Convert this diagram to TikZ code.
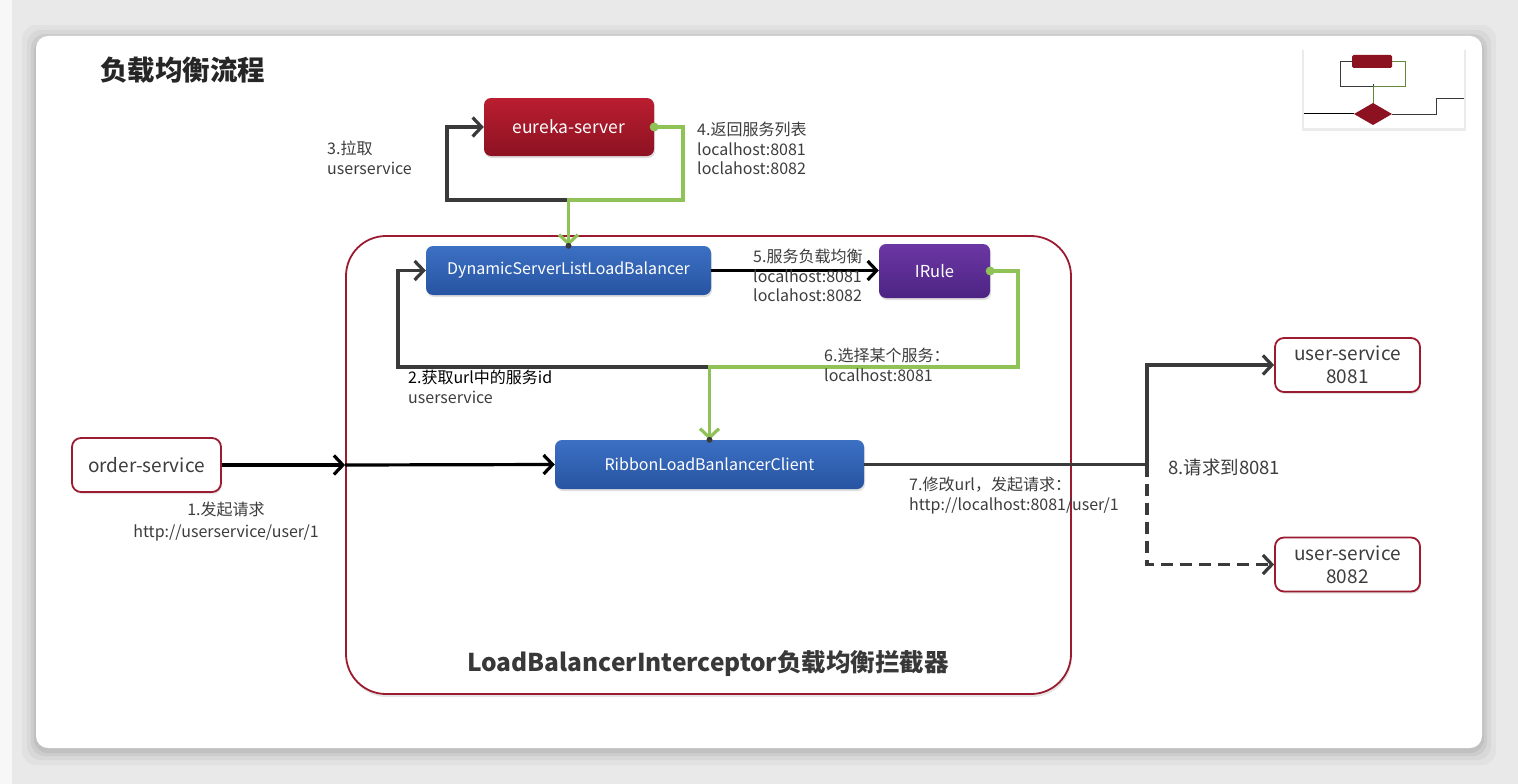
\documentclass[tikz,border=0pt]{standalone}
\usepackage{fontspec}
\setmainfont{Noto Sans CJK SC}
\usetikzlibrary{arrows.meta,shadows,calc}
\definecolor{bggray}{HTML}{E9E9E9}
\definecolor{ired}{HTML}{9B1B30}
\definecolor{eurtop}{HTML}{BA1E30}
\definecolor{eurbot}{HTML}{8C1222}
\definecolor{bluetop}{HTML}{3C70C3}
\definecolor{bluebot}{HTML}{2754A2}
\definecolor{purtop}{HTML}{6C37A4}
\definecolor{purbot}{HTML}{4C2483}
\definecolor{darkline}{HTML}{3A3A3A}
\definecolor{greenline}{HTML}{8FC257}
\definecolor{labeltext}{HTML}{3D3D3D}
\tikzset{
  fbox/.style={rounded corners=7pt, text=white, inner sep=0pt,
    drop shadow={opacity=0.25, shadow xshift=1pt, shadow yshift=-2pt}},
  redbox/.style={fbox, top color=eurtop, bottom color=eurbot},
  bluebox/.style={fbox, top color=bluetop, bottom color=bluebot},
  purbox/.style={fbox, top color=purtop, bottom color=purbot},
  whitebox/.style={rounded corners=9pt, draw=ired, line width=1.8pt, fill=white, text=labeltext,
    inner sep=0pt, drop shadow={opacity=0.2, shadow xshift=1pt, shadow yshift=-2pt}},
  darkarrow/.style={draw=darkline, line width=3.2pt, -{Straight Barb[length=9pt,width=19pt]}},
  blackarrow/.style={draw=black, line width=3.2pt, -{Straight Barb[length=9pt,width=19pt]}},
  greenarrow/.style={draw=greenline, line width=3.2pt, -{Straight Barb[length=9pt,width=19pt]}},
  lbl/.style={anchor=north west, align=left, text=labeltext, inner sep=0pt,
    font=\fontsize{16}{19.5}\selectfont},
}
\begin{document}
\begin{tikzpicture}[x=1pt,y=-1pt]
\useasboundingbox (0,0) rectangle (1518,784);
\fill[bggray] (0,0) rectangle (1518,784);
\fill[white!97!black] (0,0) rectangle (12,784);
\foreach \i/\o in {14/0.03,9/0.04,5/0.05,2/0.06}
  \fill[black,opacity=\o,rounded corners=14pt] (36-\i,36-\i+3) rectangle (1482+\i,748+\i+3);
\fill[white,rounded corners=12pt] (36,36) rectangle (1482,748);

% title
\node[anchor=west, inner sep=0pt, font=\fontsize{27.5}{30}\selectfont\bfseries, text=black!85] (title) at (100,70) {负载均衡流程};

% thumbnail
\fill[black,opacity=0.08] (1302,50) rectangle (1466,131);
\fill[white] (1304,50) rectangle (1464,128);
\draw[darkline, line width=0.8pt] (1373,84) -- (1373,86) -| (1340,61) -- (1352,61);
\draw[greenline!70!black, line width=0.8pt] (1392,61) -| (1405,86) -| (1373,104);
\fill[eurbot, rounded corners=1.5pt] (1352,55) rectangle (1392,68);
\fill[eurbot] (1373,103) -- (1392,114) -- (1373,125) -- (1354,114) -- cycle;
\draw[black, line width=0.8pt] (1304,113) -- (1354,113);
\draw[darkline, line width=0.6pt] (1392,114) -- (1436,114) |- (1464,98);

% interceptor frame
\node[draw=ired, line width=1.8pt, rounded corners=40pt, minimum width=725pt, minimum height=458pt,
  drop shadow={opacity=0.2, shadow xshift=1pt, shadow yshift=-3pt}, fill=white] (icp) at (708.5,465) {};
\node[font=\fontsize{24.5}{27}\selectfont\bfseries, text=black!78, inner sep=0pt] (icplabel) at (708,664)
  {LoadBalancerInterceptor负载均衡拦截器};

% boxes
\node[redbox, minimum width=170pt, minimum height=58pt, font=\fontsize{17.5}{21}\selectfont] (eur) at (569,127) {eureka-server};
\node[bluebox, minimum width=285pt, minimum height=49pt, font=\fontsize{16}{18}\selectfont] (dslb) at (568.5,270.5) {DynamicServerListLoadBalancer};
\node[purbox, minimum width=111pt, minimum height=54pt, font=\fontsize{16.5}{18}\selectfont] (irule) at (934.5,271) {IRule};
\node[bluebox, minimum width=309pt, minimum height=49pt, font=\fontsize{16}{18}\selectfont] (rib) at (709.5,464.5) {RibbonLoadBanlancerClient};
\node[whitebox, minimum width=149pt, minimum height=54pt, font=\fontsize{19}{22}\selectfont] (ord) at (146.5,465) {order-service};
\node[whitebox, minimum width=145pt, minimum height=54pt, align=center, font=\fontsize{19}{23}\selectfont] (us1) at (1347.5,365) {user-service\\8081};
\node[whitebox, minimum width=145pt, minimum height=54pt, align=center, font=\fontsize{19}{23}\selectfont] (us2) at (1347.5,564.5) {user-service\\8082};

% connector corners
\coordinate (c3) at (447,200);
\coordinate (g4) at (683,200);
\coordinate (c2) at (398,367);
\coordinate (g6) at (1018,367);
\coordinate (c8) at (1147,464.5);

% dark loops
\draw[darkarrow] (dslb.north) |- (c3) |- (eur.west);
\draw[darkarrow] (rib.north) |- (c2) |- (dslb.west);
% green returns
\draw[greenarrow] (eur.east) -| (g4) -| (dslb.north);
\fill[greenline] (eur.east) circle (4.5pt);
\draw[greenarrow] (irule.east) -| (g6) -| (rib.north);
\fill[greenline] (irule.east) circle (4.5pt);
\fill[darkline] (dslb.north) circle (3pt);
\fill[darkline] (rib.north) circle (3pt);

% black arrows
\draw[blackarrow] (dslb.east) -- (dslb.east -| irule.west);
\draw[blackarrow] (ord.east) -- (icp.west);
\draw[blackarrow] (icp.west) -- (rib.west);

% outgoing
\draw[darkline, line width=3.2pt] (rib.east) -- (c8);
\draw[darkarrow] (c8) |- (us1.west);
\draw[darkarrow, dash pattern=on 12pt off 7pt] (c8) |- (us2.west);

% labels
\node[lbl] (l3) at (327,141) {3.拉取\\userservice};
\node[lbl] (l4) at (697,122) {4.返回服务列表\\localhost:8081\\loclahost:8082};
\node[lbl] (l5) at (753,249) {5.服务负载均衡\\localhost:8081\\loclahost:8082};
\node[lbl] (l2) at (408,370) {\textcolor{black}{2.获取url中的服务id}\\userservice};
\node[lbl] (l6) at (824,348) {6.选择某个服务：\\localhost:8081};
\node[lbl, anchor=north, align=center, font=\fontsize{16}{22}\selectfont] (l1) at (226,502) {1.发起请求\\http://userservice/user/1};
\node[lbl] (l7) at (909,477) {7.修改url，发起请求：\\http://localhost:8081/user/1};
\node[lbl, anchor=west, font=\fontsize{18.5}{21}\selectfont] (l8) at (1168,467) {8.请求到8081};
\end{tikzpicture}
\end{document}
